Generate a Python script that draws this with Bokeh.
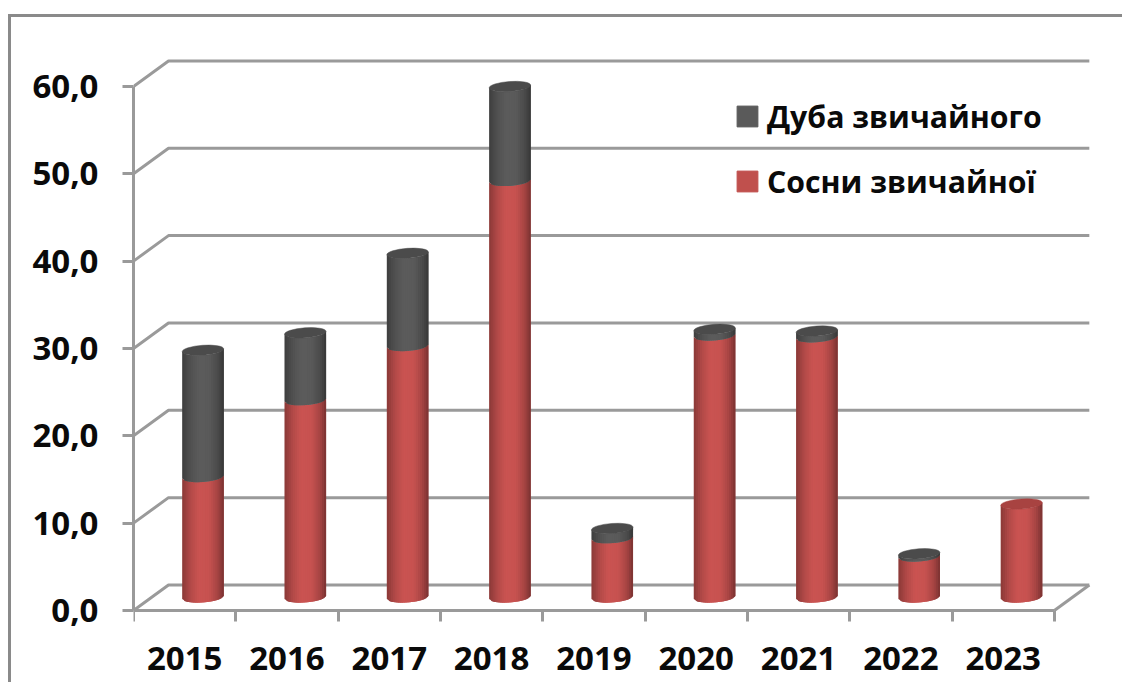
from bokeh.embed import file_html
from bokeh.resources import INLINE
from bokeh.plotting import figure
from bokeh.models import Range1d, FixedTicker, Legend, LegendItem, LinearAxis
import math

years = ["2015", "2016", "2017", "2018", "2019", "2020", "2021", "2022", "2023"]
pine = [13.8, 22.6, 28.8, 47.7, 6.8, 30.0, 29.8, 4.7, 10.7]
oak = [14.5, 7.7, 10.6, 10.8, 1.1, 0.7, 0.7, 0.3, 0.0]
y_ticks = [0, 10, 20, 30, 40, 50, 60]
y_labels = ["0,0", "10,0", "20,0", "30,0", "40,0", "50,0", "60,0"]
series_names = ["Дуба звичайного", "Сосни звичайної"]

FONT = "Open Sans"
GRID = "#9a9a9a"
FRAME = "#8a8a8a"
RED = (203, 84, 82)
GRAY = (92, 92, 92)
DEPTH_X, DEPTH_Y = 0.342, 2.92     # oblique projection of the back wall, data units
BAR_W, CAP_H, TILT = 0.4066, 1.15, 0.07
BASE_Y = 1.49
N = 20

p = figure(width=1122, height=682, output_backend="svg", toolbar_location=None,
           x_range=Range1d(0, 9.5), y_range=Range1d(-8.245, 64),
           min_border_left=133, min_border_right=17, min_border_top=51, min_border_bottom=0,
           x_axis_type=None, y_axis_type=None, outline_line_color=None,
           background_fill_color=None, border_fill_color=None)
p.grid.visible = False
# the chart's outer frame: its left and top edges, behind the transparent canvas
bar = f"linear-gradient({FRAME},{FRAME})"
p.styles = {"background": f"{bar} 8px 14px / 100% 3px no-repeat, {bar} 8px 14px / 3px 100% no-repeat, white"}

ya = LinearAxis(ticker=FixedTicker(ticks=y_ticks), bounds=(0, 60),
                major_label_overrides=dict(zip(y_ticks, y_labels)))
xa = LinearAxis(ticker=FixedTicker(ticks=[i + 0.5 for i in range(len(years))],
                                   minor_ticks=list(range(len(years) + 1))),
                bounds=(0, len(years)), fixed_location=0,
                major_label_overrides={i + 0.5: y for i, y in enumerate(years)})
for a in (ya, xa):
    a.axis_line_color = GRID
    a.axis_line_width = 3
    a.major_label_text_font = FONT
    a.major_label_text_font_style = "bold"
    a.major_label_text_font_size = "33px"
    a.major_label_text_color = "#0a0a0a"
ya.major_tick_line_color = GRID
ya.major_tick_line_width = 3
ya.major_tick_in = 0
ya.major_tick_out = 11
ya.minor_tick_line_color = None
ya.major_label_standoff = 24
xa.major_tick_line_color = None
xa.major_tick_in = 0
xa.major_tick_out = 0
xa.minor_tick_line_color = GRID
xa.minor_tick_line_width = 3
xa.minor_tick_in = 0
xa.minor_tick_out = 11
xa.major_label_standoff = 26
p.add_layout(ya, "left")
p.add_layout(xa, "below")

# gridlines bent around the back wall, and the floor edge
n = len(years)
gx = [[0, DEPTH_X, n + DEPTH_X] for _ in y_ticks]
gy = [[t, t + DEPTH_Y, t + DEPTH_Y] for t in y_ticks]
gx.append([n, n + DEPTH_X])
gy.append([0, DEPTH_Y])
p.multi_line(gx, gy, line_color=GRID, line_width=3)


def shade(u):
    pts = [(-1.0, 0.68), (-0.6, 0.88), (-0.2, 1.0), (0.3, 0.98), (0.7, 0.82), (1.0, 0.6)]
    for (a, fa), (b, fb) in zip(pts, pts[1:]):
        if u <= b:
            return fa + (fb - fa) * (u - a) / (b - a)
    return pts[-1][1]


def hexc(rgb, k):
    return "#%02x%02x%02x" % tuple(min(255, int(c * k)) for c in rgb)


XPX, YPX = 102.33, 8.733


def curve(u, level):
    """front edge of the elliptical section at height `level`, in data y"""
    tilt = math.tan(TILT) * u * (BAR_W / 2 * XPX) / YPX
    return BASE_Y + level + tilt - (CAP_H / 2) * math.sqrt(max(0, 1 - u * u))


def strips(cx, lo, hi, rgb):
    xs, ys, cols = [], [], []
    for j in range(N):
        u0 = -1 + 2 * j / N
        u1 = -1 + 2 * (j + 1) / N
        u2 = min(1, u1 + 2 / N)       # overlap the next strip, so that no seams show
        x0 = cx + u0 * BAR_W / 2
        x2 = cx + u2 * BAR_W / 2
        xs.append([x0, x2, x2, x0])
        ys.append([curve(u0, lo), curve(u2, lo), curve(u2, hi), curve(u0, hi)])
        cols.append(hexc(rgb, shade((u0 + u1) / 2)))
    return xs, ys, cols


X, Y, C = [], [], []
cap_x, cap_y, cap_c = [], [], []
for i in range(n):
    cx = i + 0.5 + DEPTH_X / 2 + 0.008
    xs, ys, cs = strips(cx, 0, pine[i], RED)
    X += xs; Y += ys; C += cs
    top = pine[i] + oak[i]
    if oak[i] > 0:
        xs, ys, cs = strips(cx, pine[i], top, GRAY)
        X += xs; Y += ys; C += cs
    cap_x.append(cx)
    cap_y.append(BASE_Y + top)
    cap_c.append("#4b4b4b" if oak[i] > 0 else "#a84341")

p.patches(xs=X, ys=Y, fill_color=C, line_color=None)
p.ellipse(x=cap_x, y=cap_y, width=BAR_W, height=CAP_H, angle=TILT,
          fill_color=cap_c, line_color=cap_c, line_width=0.5)

# legend keys: quads kept outside the visible range, only their swatches show
r_oak = p.quad(left=[-3], right=[-2], top=[-3], bottom=[-4], fill_color="#5a5a5a", line_color="#5a5a5a")
r_pine = p.quad(left=[-3], right=[-2], top=[-3], bottom=[-4], fill_color="#c0504d", line_color="#c0504d")
leg = Legend(items=[LegendItem(label=series_names[0], renderers=[r_oak]),
                    LegendItem(label=series_names[1], renderers=[r_pine])],
             location=(601, 479), orientation="vertical",
             glyph_width=26, glyph_height=26, label_standoff=7,
             spacing=21, padding=0, margin=0,
             background_fill_alpha=0, border_line_alpha=0,
             label_text_font=FONT, label_text_font_style="bold",
             label_text_font_size="30.25px", label_text_color="#0a0a0a",
             label_height=44)
p.add_layout(leg, "center")

open("out.html", "w").write(file_html(p, INLINE))
